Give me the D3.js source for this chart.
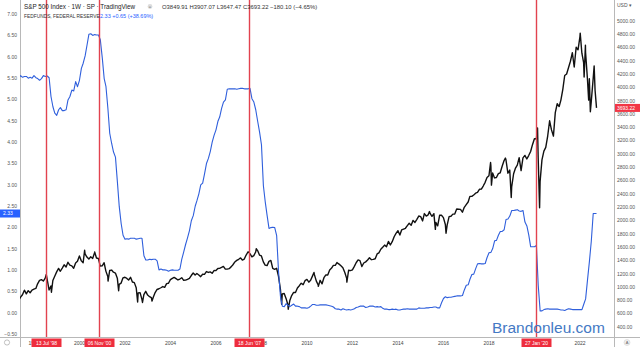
<!DOCTYPE html>
<html><head><meta charset="utf-8">
<script src="https://cdn.jsdelivr.net/npm/d3@7"></script>
<style>html,body{margin:0;padding:0;background:#fff;overflow:hidden}text{font-family:"Liberation Sans",Arial,sans-serif}</style>
</head><body><svg id="c" width="640" height="347"></svg>
<script>
// ---------- DATA ----------
// Effective Federal Funds Rate, monthly from Jan 1997 (percent)
const ffStartYear = 1997;
const ffValues = [
5.25,5.19,5.39,5.51,5.50,5.56,5.52,5.54,5.54,5.50,5.52,5.50,
5.56,5.51,5.49,5.45,5.49,5.56,5.54,5.55,5.51,5.07,4.83,4.68,
4.63,4.76,4.81,4.74,4.74,4.76,4.99,5.07,5.22,5.20,5.42,5.30,
5.45,5.73,5.85,6.02,6.27,6.53,6.54,6.50,6.52,6.51,6.51,6.40,
5.98,5.49,5.31,4.80,4.21,3.97,3.77,3.65,3.07,2.49,2.09,1.82,
1.73,1.74,1.73,1.75,1.75,1.75,1.73,1.74,1.75,1.75,1.34,1.24,
1.24,1.26,1.25,1.26,1.26,1.22,1.01,1.03,1.01,1.01,1.00,0.98,
1.00,1.01,1.00,1.00,1.00,1.03,1.26,1.43,1.61,1.76,1.93,2.16,
2.28,2.50,2.63,2.79,3.00,3.04,3.26,3.50,3.62,3.78,4.00,4.16,
4.29,4.49,4.59,4.79,4.94,4.99,5.24,5.25,5.25,5.25,5.25,5.24,
5.25,5.26,5.26,5.25,5.25,5.25,5.26,5.02,4.94,4.76,4.49,4.24,
3.94,2.98,2.61,2.28,1.98,2.00,2.01,2.00,1.81,0.97,0.39,0.16,
0.15,0.22,0.18,0.15,0.18,0.21,0.16,0.16,0.15,0.12,0.12,0.12,
0.11,0.13,0.16,0.20,0.20,0.18,0.18,0.19,0.19,0.19,0.19,0.18,
0.17,0.16,0.14,0.10,0.09,0.09,0.07,0.10,0.08,0.07,0.08,0.07,
0.08,0.10,0.13,0.14,0.16,0.16,0.16,0.13,0.14,0.16,0.16,0.16,
0.14,0.15,0.14,0.15,0.11,0.09,0.09,0.08,0.08,0.09,0.08,0.09,
0.07,0.07,0.08,0.09,0.09,0.10,0.09,0.09,0.09,0.09,0.09,0.12,
0.11,0.11,0.11,0.12,0.12,0.13,0.13,0.14,0.14,0.12,0.12,0.24,
0.34,0.38,0.36,0.37,0.37,0.38,0.39,0.40,0.40,0.40,0.41,0.54,
0.65,0.66,0.79,0.90,0.91,1.04,1.15,1.16,1.15,1.15,1.16,1.30,
1.41,1.42,1.51,1.69,1.70,1.82,1.91,1.91,1.95,2.19,2.20,2.27,
2.40,2.40,2.41,2.42,2.39,2.38,2.40,2.13,2.04,1.83,1.55,1.55,
1.55,1.58,0.65,0.05,0.05,0.08,0.09,0.10,0.09,0.09,0.09,0.09,
0.09,0.08,0.07,0.07,0.06,0.08,0.10,0.09,0.08,0.08,0.08,0.08,
0.08,0.08,0.20,0.33,0.77,1.21,1.68,2.33
];
// S&P 500 monthly closes from Jan 1997 (last = 23 Sep 2022)
const spxStartYear = 1997;
const spxCloses = [
786,791,757,801,848,885,954,899,947,915,955,970,
980,1049,1102,1112,1091,1134,1121,957,1017,1099,1164,1229,
1280,1238,1286,1335,1302,1373,1329,1320,1283,1363,1389,1469,
1394,1366,1499,1452,1421,1455,1431,1518,1437,1429,1315,1320,
1366,1240,1160,1249,1256,1224,1211,1134,1041,1060,1139,1148,
1130,1107,1147,1077,1067,990,912,916,815,886,936,880,
856,841,848,917,964,975,990,1008,996,1051,1058,1112,
1131,1145,1126,1107,1121,1141,1102,1104,1115,1130,1174,1212,
1181,1204,1181,1157,1192,1191,1234,1220,1229,1207,1249,1248,
1280,1281,1295,1311,1270,1270,1277,1304,1336,1378,1401,1418,
1438,1407,1421,1482,1531,1503,1455,1474,1527,1549,1481,1468,
1379,1331,1323,1386,1400,1280,1267,1283,1166,969,896,903,
826,735,798,873,919,919,987,1021,1057,1036,1096,1115,
1074,1104,1169,1187,1089,1031,1102,1049,1141,1183,1181,1258,
1286,1327,1326,1364,1345,1321,1292,1219,1131,1253,1247,1258,
1312,1366,1408,1398,1310,1362,1379,1407,1441,1412,1416,1426,
1498,1515,1569,1598,1631,1606,1686,1633,1682,1757,1806,1848,
1783,1859,1872,1884,1924,1960,1931,2003,1972,2018,2068,2059,
1995,2105,2068,2086,2107,2063,2104,1972,1920,2079,2080,2044,
1940,1932,2060,2065,2097,2099,2174,2171,2168,2126,2199,2239,
2279,2364,2363,2384,2412,2423,2470,2472,2519,2575,2648,2674,
2824,2714,2641,2648,2705,2718,2816,2902,2914,2712,2760,2507,
2704,2784,2834,2946,2752,2942,2980,2926,2977,3038,3141,3231,
3226,2954,2585,2912,3044,3100,3271,3500,3363,3270,3622,3756,
3714,3811,3973,4181,4204,4298,4395,4523,4308,4605,4567,4766,
4516,4374,4530,4132,4132,3785,4130,3955,3693.22
];
// intramonth extremes of the weekly bars
const spxExtremeDates = ["1998-07-17","1998-10-08","2000-03-24","2000-09-01","2001-04-04","2001-09-21","2002-07-23","2002-10-09","2003-03-11","2007-10-09","2008-11-20","2009-03-06","2010-04-23","2010-07-02","2011-04-29","2011-10-03","2015-05-21","2015-08-24","2016-02-11","2018-01-26","2018-02-09","2018-09-21","2018-12-24","2020-02-19","2020-03-23","2022-01-04","2022-03-08","2022-03-29","2022-05-20","2022-06-16","2022-08-16"];
const spxExtremeValues = [1190,923,1553,1530,1091,945,776,769,789,1576,741,667,1220,1011,1370,1075,2135,1867,1810,2872,2533,2940,2346,3393,2192,4818,4157,4637,3811,3636,4325];

const yearTicks = [1998,2000,2002,2004,2006,2008,2010,2012,2014,2016,2018,2020,2022];
const leftTicks = [7,6.5,6,5.5,5,4.5,4,3.5,3,2.5,2,1.5,1,0.5,0,-0.5];
const rightTicks = [5000,4800,4600,4400,4200,4000,3800,3600,3400,3200,3000,2800,2600,2400,2200,2000,1800,1600,1400,1200,1000,800,600,400];
const eventDates = ["1998-07-13","2000-11-06","2007-06-18","2020-01-27"];
const eventLabels = ["13 Jul '98","06 Nov '00","18 Jun '07","27 Jan '20"];
const ffLast = 2.33, ffChange = "+0.65 (+38.69%)";
const spxLast = 3693.22;
const spxOHLC = "O3849.91 H3907.07 L3647.47 C3693.22 \u2212180.10 (\u22124.65%)";

// ---------- CHART ----------
const W = 640, H = 347, L = 20, R = 614, B = 337;
const svg = d3.select("#c");
const parse = d3.timeParse("%Y-%m-%d");
const x = d3.scaleTime().domain([new Date(1997,0,1), new Date(2023,0,1)]).range([11.25, 602.75]);
const yL = d3.scaleLinear().domain([0,7]).range([313,14.1]);
const yR = d3.scaleLinear().domain([400,5000]).range([327,21]);

svg.append("rect").attr("width",W).attr("height",H).attr("fill","#fff");
svg.append("clipPath").attr("id","pc").append("rect").attr("x",L).attr("y",0).attr("width",R-L).attr("height",B);

const ff = ffValues.map((v,i)=>({d:new Date(ffStartYear, i, 1), v}));
let spx = spxCloses.map((v,i)=>({d:new Date(spxStartYear, i+1, 0), v}));
spx[spx.length-1].d = new Date(2022,8,23);
ff.push({d: spx[spx.length-1].d, v: ffValues[ffValues.length-1]});
spxExtremeDates.forEach((s,i)=>spx.push({d:parse(s), v:spxExtremeValues[i]}));
spx.sort((a,b)=>a.d-b.d);

// axes frame
svg.append("line").attr("x1",0).attr("x2",W).attr("y1",B+0.5).attr("y2",B+0.5).attr("stroke","#b8b8b8");
svg.append("line").attr("x1",L+0.5).attr("x2",L+0.5).attr("y1",0).attr("y2",H).attr("stroke","#b8b8b8");
svg.append("line").attr("x1",R+0.5).attr("x2",R+0.5).attr("y1",0).attr("y2",H).attr("stroke","#b8b8b8");

const g = svg.append("g").attr("clip-path","url(#pc)");
g.append("path").datum(spx).attr("fill","none").attr("stroke","#111").attr("stroke-width",1.4)
  .attr("stroke-linejoin","round")
  .attr("d", d3.line().x(d=>x(d.d)).y(d=>yR(d.v)));
g.append("path").datum(ff).attr("fill","none").attr("stroke","#2f5fdc").attr("stroke-width",1.1)
  .attr("stroke-linejoin","round")
  .attr("d", d3.line().x(d=>x(d.d)).y(d=>yL(d.v)));

// event lines (as thin rects)
svg.append("g").selectAll("rect").data(eventDates).join("rect")
  .attr("x",s=>Math.round(x(parse(s)))-0.2).attr("y",0).attr("width",1.4).attr("height",B)
  .attr("fill","#e2434f");

// left axis labels
svg.append("g").selectAll("text").data(leftTicks).join("text")
  .attr("x",17).attr("y",d=>yL(d)).attr("dy","0.35em").attr("text-anchor","end")
  .attr("font-size",5).attr("fill","#555").text(d=>d.toFixed(2).replace("-","\u2212"));
// right axis labels
svg.append("g").selectAll("text").data(rightTicks).join("text")
  .attr("x",617).attr("y",d=>yR(d)).attr("dy","0.35em")
  .attr("font-size",5).attr("fill","#555").text(d=>d.toFixed(2));
svg.append("text").attr("x",617).attr("y",5).attr("dy","0.35em").attr("font-size",5).attr("fill","#555").text("USD \u25BE");

// bottom year labels
svg.append("g").selectAll("text").data(yearTicks).join("text")
  .attr("x",d=>x(new Date(d,0,1))).attr("y",343).attr("dy","0.35em").attr("text-anchor","middle")
  .attr("font-size",5).attr("fill","#444").text(d=>d);

// event date boxes
eventDates.forEach((s,i)=>{
  const xx = Math.round(x(parse(s)))+0.5;
  svg.append("rect").attr("x",xx-15).attr("y",338.5).attr("width",30).attr("height",8.5).attr("fill","#ee2d3d");
  svg.append("text").attr("x",xx).attr("y",343).attr("dy","0.35em").attr("text-anchor","middle")
    .attr("font-size",5).attr("fill","#fff").text(eventLabels[i]);
});

// last value boxes
svg.append("rect").attr("x",0).attr("y",yL(ffLast)-4).attr("width",L).attr("height",8).attr("fill","#2962ff");
svg.append("text").attr("x",3).attr("y",yL(ffLast)).attr("dy","0.35em").attr("font-size",5).attr("fill","#fff").text(ffLast.toFixed(2));
svg.append("rect").attr("x",R+1).attr("y",yR(spxLast)-4).attr("width",W-R-1).attr("height",8).attr("fill","#f23645");
svg.append("text").attr("x",617).attr("y",yR(spxLast)).attr("dy","0.35em").attr("font-size",5).attr("fill","#fff").text(spxLast.toFixed(2));

// bottom icons
svg.append("circle").attr("cx",7).attr("cy",342.5).attr("r",2.6).attr("fill","none").attr("stroke","#999").attr("stroke-width",0.6);
svg.append("circle").attr("cx",627).attr("cy",342.5).attr("r",3).attr("fill","#eee").attr("stroke","#ccc").attr("stroke-width",0.5);
svg.append("text").attr("x",627).attr("y",342.7).attr("dy","0.35em").attr("text-anchor","middle").attr("font-size",4).attr("fill","#666").text("A");

// legend
const lg = svg.append("g");
lg.append("text").attr("x",24).attr("y",6.5).attr("dy","0.35em").attr("font-size",6.3).attr("fill","#222").text("S&P 500 Index \u00B7 1W \u00B7 SP \u00B7 TradingView");
lg.append("circle").attr("cx",150).attr("cy",6.5).attr("r",2.4).attr("fill","#ddd");
lg.append("text").attr("x",150).attr("y",6.6).attr("dy","0.35em").attr("text-anchor","middle").attr("font-size",4).attr("fill","#777").text("=");
lg.append("text").attr("x",162).attr("y",6.5).attr("dy","0.35em").attr("font-size",5.9).attr("fill","#333").text(spxOHLC);
lg.append("text").attr("x",24).attr("y",16).attr("dy","0.35em").attr("font-size",4.85).attr("fill","#333").text("FEDFUNDS, FEDERAL RESERVE");
lg.append("text").attr("x",100).attr("y",16).attr("dy","0.35em").attr("font-size",5.5).attr("fill","#2962ff").text(ffLast.toFixed(2)+" "+ffChange);

// watermark
svg.append("text").attr("x",492).attr("y",333).attr("font-size",15.5).attr("fill","#4479c4").text("Brandonleu.com");
</script></body></html>
